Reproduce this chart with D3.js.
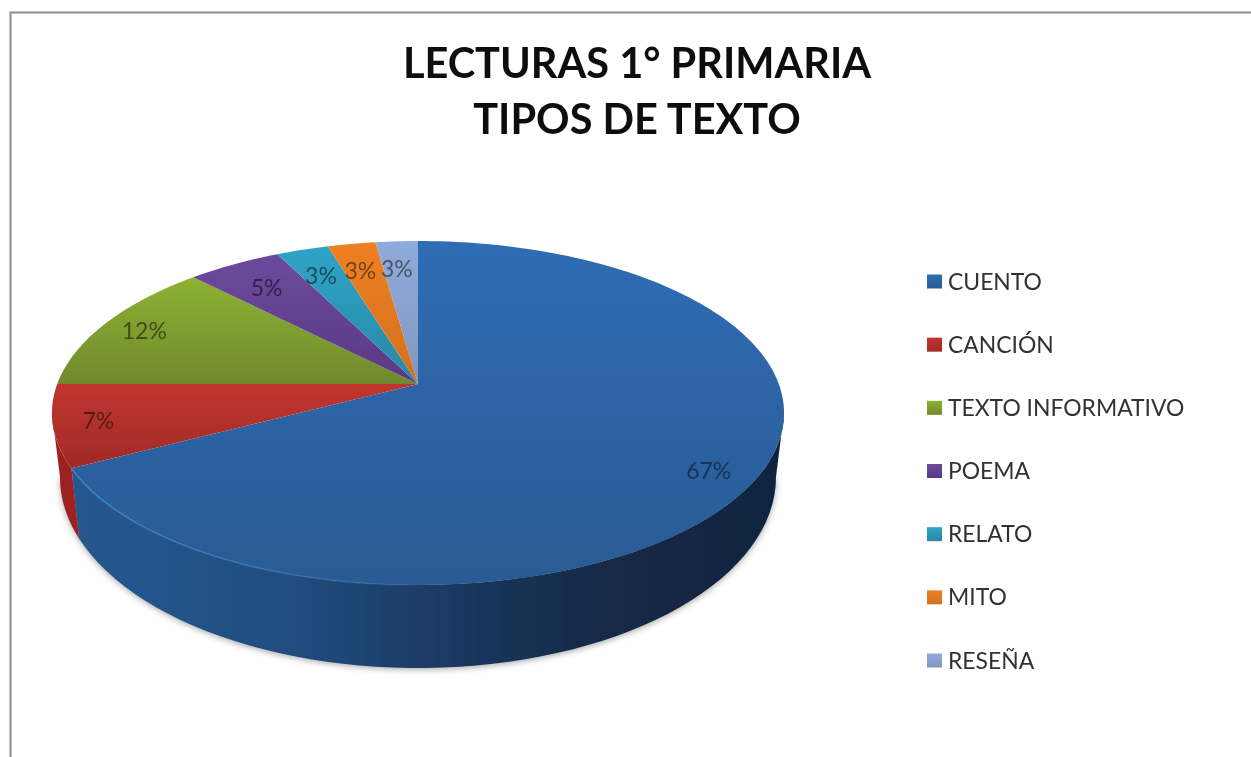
<!DOCTYPE html>
<html><head><meta charset="utf-8">
<script src="https://cdn.jsdelivr.net/npm/d3@7"></script>
<style>html,body{margin:0;padding:0;background:#fff}svg{display:block}text{font-family:Lato,"Open Sans",sans-serif}</style>
</head><body><svg id="c" width="1251" height="757"></svg>
<script>
const titleLines = ["LECTURAS 1° PRIMARIA", "TIPOS DE TEXTO"];
const categories = ["CUENTO","CANCIÓN","TEXTO INFORMATIVO","POEMA","RELATO","MITO","RESEÑA"];
const percents = [67.3,7.7,12.7,4.9,2.7,2.5,2.2];
const percentLabels = ["67%","7%","12%","5%","3%","3%","3%"];
const topColors = ["#2f6db4","#c0352f","#8db231","#6b4a9c","#2ea4c9","#ef7f22","#8fabdc"];
const lowColors = ["#2a5a94","#a02a27","#70892e","#5a3a84","#2a88a4","#d2711f","#8296bc"];

const W=1251,H=757, cx=418;
const svg=d3.select("#c");
const defs=svg.append("defs");
const color=d3.scaleOrdinal(categories,topColors);
const colorLow=d3.scaleOrdinal(categories,lowColors);

// perspective of the disc: apex, half axes, foreshortening
const apexY=384, a=360.8, b=167.1, p=0.1686;
// silhouettes of the top face and the bottom face
const topE={cy:413,rx:366,ry:172}, botE={cy:477,rx:358,ry:191};
const project=(ang,r=1)=>{const u=Math.sin(ang)*r,v=-Math.cos(ang)*r,w=1-p*v;return [cx+a*u/w,apexY+b*v/w];};
const rimT=ang=>{const [x,y]=project(ang);let t=Math.atan2((y-topE.cy)/topE.ry,(x-cx)/topE.rx);if(t<-Math.PI/2-1e-6)t+=2*Math.PI;return t;};
const onE=(E,t)=>[cx+E.rx*Math.cos(t),E.cy+E.ry*Math.sin(t)];
const line=d3.line();

const arcs=d3.pie().sort(null).value(d=>d)(percents);

// filters
const sh=defs.append("filter").attr("id","shadow").attr("x","-10%").attr("y","-10%").attr("width","120%").attr("height","120%");
sh.append("feGaussianBlur").attr("stdDeviation",3);
const soft=defs.append("filter").attr("id","soft");
soft.append("feGaussianBlur").attr("stdDeviation",0.6);
const softT=defs.append("filter").attr("id","softT");
softT.append("feGaussianBlur").attr("stdDeviation",0.5);

// gradients
categories.forEach((c,i)=>{
  const g=defs.append("linearGradient").attr("id","g"+i).attr("x1",0).attr("x2",0).attr("y1",0).attr("y2",1);
  g.append("stop").attr("offset",0).attr("stop-color",color(c));
  g.append("stop").attr("offset",1).attr("stop-color",colorLow(c));
});
const sg=defs.append("linearGradient").attr("id","sideBlue").attr("gradientUnits","userSpaceOnUse")
  .attr("x1",72).attr("x2",784).attr("y1",0).attr("y2",0);
[[0,"#25588f"],[0.3,"#214d80"],[0.5,"#1b3c66"],[0.72,"#132a48"],[1,"#11243f"]].forEach(s=>sg.append("stop").attr("offset",s[0]).attr("stop-color",s[1]));
const rg=defs.append("linearGradient").attr("id","rimBlue").attr("gradientUnits","userSpaceOnUse")
  .attr("x1",72).attr("x2",500).attr("y1",0).attr("y2",0);
[[0,"#3a86c4",0.95],[0.6,"#3a7ab8",0.6],[1,"#2a5a94",0]].forEach(s=>rg.append("stop").attr("offset",s[0]).attr("stop-color",s[1]).attr("stop-opacity",s[2]));

// frame: top and left edges only
svg.append("path").attr("d",d3.line()([[10.5,757],[10.5,12.5],[1251,12.5]])).attr("fill","none").attr("stroke","#8c8c8c").attr("stroke-width",2);

// title
svg.append("g").selectAll("text").data(titleLines).join("text")
  .attr("x",637).attr("y",(d,i)=>78+i*56).attr("text-anchor","middle")
  .attr("font-size",41.5).attr("font-weight",700).attr("fill","#111").attr("filter","url(#softT)").text(d=>d);

const pie=svg.append("g");
// soft shadow along the lower silhouette
pie.append("path").attr("filter","url(#shadow)").attr("fill","#777").attr("opacity",0.65)
  .attr("d",line(d3.range(0,181,3).map(deg=>onE(botE,deg*Math.PI/180)).map(q=>[q[0],q[1]+1.5]))+"Z");

const face=pie.append("g").attr("filter","url(#soft)");
// sides
const sideFill=["url(#sideBlue)","#9c2320"];
arcs.forEach((d,i)=>{
  const t0=Math.max(0,rimT(d.startAngle)), t1=Math.min(Math.PI,rimT(d.endAngle));
  if(t1<=t0) return;
  const ts=d3.range(0,61).map(k=>t0+(t1-t0)*k/60);
  const pts=ts.map(t=>onE(topE,t)).concat(ts.slice().reverse().map(t=>onE(botE,t)));
  face.append("path").attr("d",line(pts)+"Z").attr("fill",sideFill[i]||color(categories[i]));
});
// top faces
arcs.forEach((d,i)=>{
  const n=Math.max(8,Math.ceil((d.endAngle-d.startAngle)*40));
  const rim=d3.range(0,n+1).map(k=>project(d.startAngle+(d.endAngle-d.startAngle)*k/n));
  face.append("path").attr("d",line([[cx,apexY],...rim])+"Z").attr("fill",`url(#g${i})`);
});
// lit front rim
const frontT=d3.range(0,41).map(k=>rimT(arcs[0].endAngle)+(Math.PI/2-rimT(arcs[0].endAngle))*k/40);
face.append("path").attr("d",line(frontT.map(t=>onE(topE,t)))).attr("fill","none").attr("stroke","url(#rimBlue)").attr("stroke-width",1.6);

// data labels
const labelR=v=>v>50?0.87:v>10?0.87:v>6?0.88:0.78;
const labelDy=v=>v>50?14:8;
const labelDx=v=>v<6?-4:0;
pie.append("g").selectAll("text").data(arcs).join("text")
  .attr("x",d=>project((d.startAngle+d.endAngle)/2,labelR(d.data))[0]+labelDx(d.data))
  .attr("y",d=>project((d.startAngle+d.endAngle)/2,labelR(d.data))[1]+labelDy(d.data))
  .attr("text-anchor","middle").attr("font-size",23)
  .attr("fill",(d,i)=>d3.color(colorLow(categories[i])).darker(1.6))
  .attr("filter","url(#softT)")
  .text((d,i)=>percentLabels[i]);

// legend
const ly=d3.scalePoint().domain(categories).range([281.5,660.5]);
const leg=svg.append("g").selectAll("g").data(categories).join("g").attr("transform",d=>`translate(0,${ly(d)})`);
leg.append("rect").attr("x",927).attr("y",-7).attr("width",15).attr("height",14)
  .attr("fill",(d,i)=>`url(#g${i})`).attr("filter","url(#softT)");
leg.append("text").attr("x",948).attr("y",8).attr("font-size",22.9).attr("fill","#333")
  .attr("filter","url(#softT)").text(d=>d);
</script></body></html>
